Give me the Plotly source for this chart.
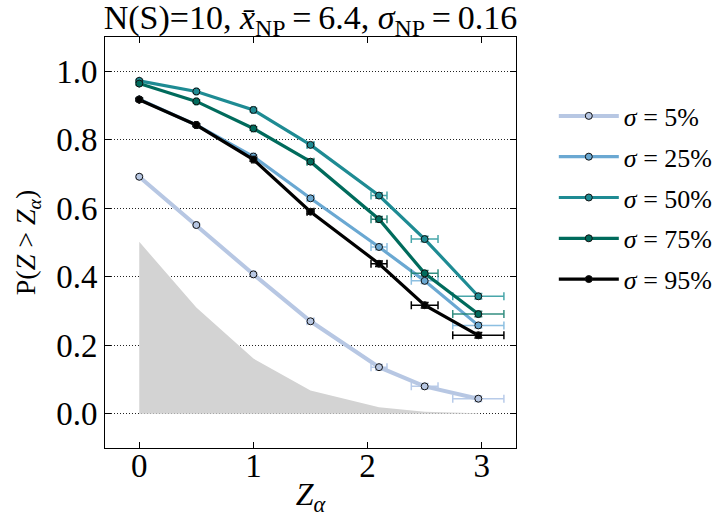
import plotly.graph_objects as go

# ---- data ----
z_alpha = [0.0, 0.5, 1.0, 1.5, 2.1, 2.5, 2.97]
alpha_area = [0.502, 0.31, 0.161, 0.068, 0.019, 0.006, 0.0015]

labels = ["5%", "25%", "50%", "75%", "95%"]
p5 = [0.692, 0.551, 0.407, 0.270, 0.136, 0.080, 0.044]
p25 = [0.918, 0.843, 0.751, 0.629, 0.487, 0.388, 0.258]
p50 = [0.972, 0.941, 0.887, 0.785, 0.637, 0.510, 0.343]
p75 = [0.964, 0.912, 0.833, 0.736, 0.568, 0.410, 0.291]
p95 = [0.917, 0.843, 0.742, 0.590, 0.438, 0.317, 0.229]
series = [p5, p25, p50, p75, p95]

x_err = [0.0, 0.01, 0.015, 0.03, 0.07, 0.117, 0.224]
y_err = [0.004, 0.004, 0.005, 0.006, 0.008, 0.008, 0.008]

# ---- styles ----
colors = ["#b7c7e3", "#6aa8d2", "#1e8b93", "#006b5c", "#000000"]
err_colors = ["rgba(160,185,225,0.75)", "rgba(120,180,220,0.85)",
              "rgba(40,150,155,0.85)", "rgba(30,130,115,0.9)", "#000000"]
widths = [4, 3.2, 3.2, 3.2, 3.2]
FONT = "'Liberation Serif', 'Times New Roman', serif"

fig = go.Figure()

fig.add_trace(go.Scatter(
    x=z_alpha, y=alpha_area, mode="lines", fill="tozeroy",
    fillcolor="#d3d3d3", line=dict(width=0, color="#d3d3d3"),
    showlegend=False, hoverinfo="skip"))

for i, (lab, ys) in enumerate(zip(labels, series)):
    fig.add_trace(go.Scatter(
        x=z_alpha, y=ys, mode="lines+markers",
        name="<i>σ</i> = " + lab,
        legendgroup=lab,
        line=dict(color=colors[i], width=widths[i]),
        marker=dict(symbol="circle", size=7, color=colors[i],
                    line=dict(color="#111111", width=1)),
        error_x=dict(type="data", array=x_err, color=err_colors[i],
                     thickness=1.5, width=4),
        error_y=dict(type="data", array=y_err, color=err_colors[i],
                     thickness=1.5, width=4),
    ))

fig.update_layout(
    width=725, height=517,
    margin=dict(l=105, r=209, t=37, b=69, autoexpand=False),
    paper_bgcolor="white", plot_bgcolor="white",
    font=dict(family=FONT, color="black", size=30),
    title=dict(
        text="N(S)=10, <i>x̄</i><sub>NP</sub>\u2009=\u20096.4, "
             "<i>σ</i><sub>NP</sub>\u2009=\u20090.16",
        x=0.5, xref="paper", xanchor="center",
        y=0.99, yref="container", yanchor="top",
        font=dict(family=FONT, size=34, color="black")),
    showlegend=True,
    legend=dict(
        x=1.092, xanchor="left", y=0.865, yanchor="top",
        font=dict(family=FONT, size=26, color="black"),
        traceorder="grouped", tracegroupgap=4, itemwidth=60,
        bgcolor="rgba(0,0,0,0)", borderwidth=0),
)

fig.update_xaxes(
    range=[-0.3, 3.3], tickvals=[0, 1, 2, 3], ticktext=["0", "1", "2", "3"],
    ticks="inside", ticklen=6, tickcolor="black",
    showline=True, linecolor="black", linewidth=1, mirror="ticks",
    showgrid=False, zeroline=False, ticklabelstandoff=-12,
    tickfont=dict(family=FONT, size=33),
    title=dict(text="<i>Z</i><sub><i>α</i></sub>",
               font=dict(family=FONT, size=32), standoff=11))

fig.update_yaxes(
    range=[-0.1, 1.1], tickvals=[0, 0.2, 0.4, 0.6, 0.8, 1.0],
    ticktext=["0.0", "0.2", "0.4", "0.6", "0.8", "1.0"],
    ticks="inside", ticklen=6, tickcolor="black",
    showline=True, linecolor="black", linewidth=1, mirror="ticks",
    showgrid=True, gridcolor="#222222", gridwidth=1, griddash="1px,2px",
    zeroline=False,
    tickfont=dict(family=FONT, size=33),
    title=dict(text="P(<i>Z</i> &gt; <i>Z</i><sub><i>α</i></sub>)",
               font=dict(family=FONT, size=28), standoff=12))

fig.write_html("out.html")
